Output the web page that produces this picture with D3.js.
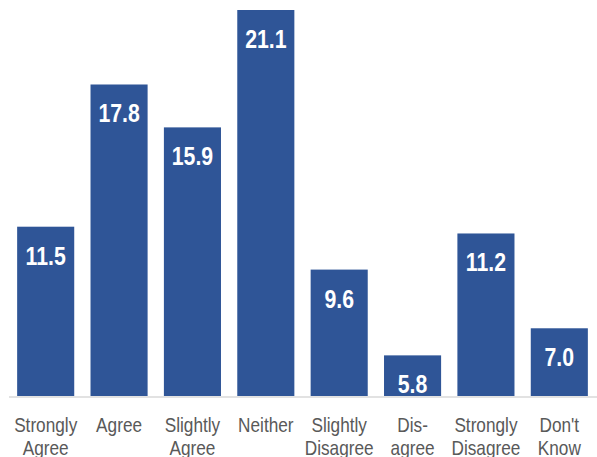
<!DOCTYPE html>
<html>
<head>
<meta charset="utf-8">
<script src="https://cdn.jsdelivr.net/npm/d3@7"></script>
<style>
  html, body { margin: 0; padding: 0; background: #fff; }
  svg { display: block; }
  .narrow { font-family: "Liberation Sans", Arial, sans-serif; }
</style>
</head>
<body>
<svg id="chart" width="597" height="457"></svg>
<script>
// Survey responses (percent)
const categories = [
  ["Strongly", "Agree"],
  ["Agree"],
  ["Slightly", "Agree"],
  ["Neither"],
  ["Slightly", "Disagree"],
  ["Dis-", "agree"],
  ["Strongly", "Disagree"],
  ["Don't", "Know"]
];
const values = [11.5, 17.8, 15.9, 21.1, 9.6, 5.8, 11.2, 7.0];
const labels = ["11.5", "17.8", "15.9", "21.1", "9.6", "5.8", "11.2", "7.0"];

const baseY = 396;
const barColor = "#2F5597";
const condense = 0.82; // horizontal squeeze to get a narrow face

const svg = d3.select("#chart");

const x = d3.scaleBand()
  .domain(d3.range(values.length))
  .range([9, 596])
  .paddingInner(0.222)
  .paddingOuter(0.111);

// value axis starts at 4, not zero
const y = d3.scaleLinear()
  .domain([4, 21.1])
  .range([baseY, 10]);

const cx = i => x(i) + x.bandwidth() / 2;

// bars
svg.append("g")
  .selectAll("rect")
  .data(values)
  .join("rect")
  .attr("x", (d, i) => x(i))
  .attr("y", d => y(d))
  .attr("width", x.bandwidth())
  .attr("height", d => baseY - y(d))
  .attr("fill", barColor);

// value labels inside the top of each bar
svg.append("g")
  .selectAll("text")
  .data(values)
  .join("text")
  .attr("class", "narrow")
  .attr("transform", (d, i) => `translate(${cx(i)},${y(d) + 38}) scale(0.85,1)`)
  .attr("text-anchor", "middle")
  .attr("fill", "#fff")
  .attr("font-weight", "bold")
  .attr("font-size", 25)
  .text((d, i) => labels[i]);

// category axis line
svg.append("line")
  .attr("x1", 9).attr("x2", 597)
  .attr("y1", baseY + 1).attr("y2", baseY + 1)
  .attr("stroke", "#d9d9d9")
  .attr("stroke-width", 1.5);

// category labels, two lines each
const cat = svg.append("g")
  .selectAll("text")
  .data(categories)
  .join("text")
  .attr("class", "narrow")
  .attr("text-anchor", "middle")
  .attr("fill", "#595959")
  .attr("font-size", 21)
  .attr("transform", (d, i) => `translate(${cx(i)},432) scale(${condense},1)`);

cat.selectAll("tspan")
  .data(d => d)
  .join("tspan")
  .attr("x", 0)
  .attr("dy", (d, j) => j === 0 ? 0 : 23)
  .text(d => d);
</script>
</body>
</html>
